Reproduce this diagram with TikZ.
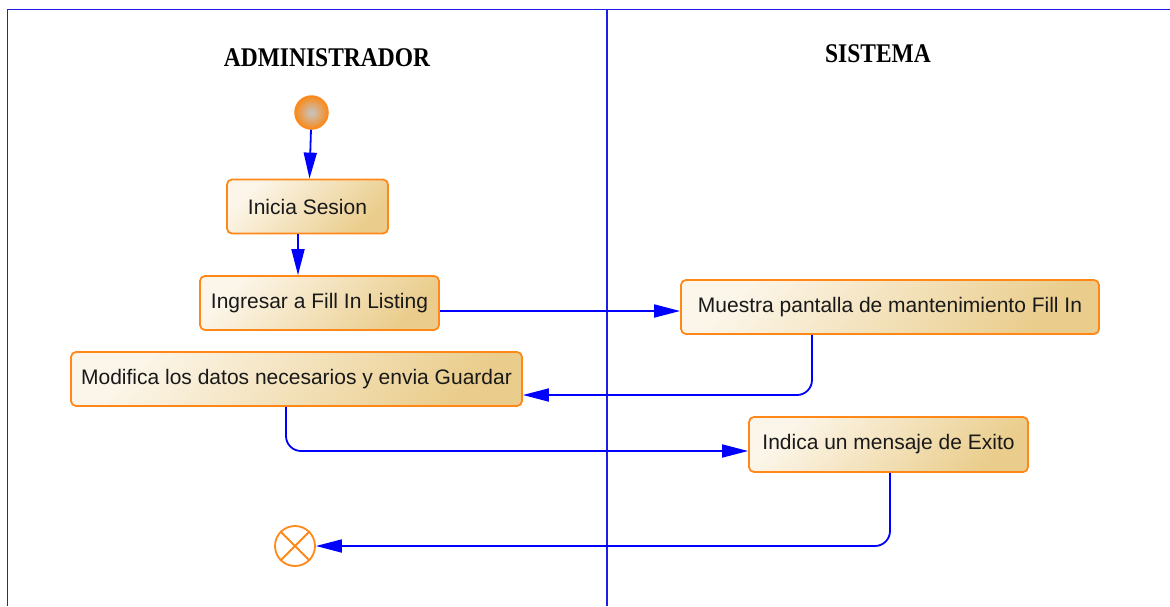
\documentclass[tikz,border=0pt]{standalone}
\usepackage{fontspec}
\usepackage{graphicx}
\newfontfamily\sansf{Liberation Sans}
\newfontfamily\seriff{Liberation Serif}
\usetikzlibrary{arrows.meta,calc}
\definecolor{laneblue}{RGB}{30,30,230}
\definecolor{flowblue}{RGB}{0,0,255}
\definecolor{boxborder}{RGB}{255,136,24}
\definecolor{boxlight}{RGB}{252,246,234}
\definecolor{boxdark}{RGB}{234,205,140}
\definecolor{initorange}{RGB}{248,138,28}
\begin{document}
\begin{tikzpicture}[x=1pt,y=-1pt,
  act/.style={draw=boxborder, line width=1.8pt, rounded corners=5pt,
    top color=boxlight, bottom color=boxdark, shading angle=45,
    inner sep=0pt, minimum height=54pt,
    font=\sansf\fontsize{21}{25}\selectfont, text=black!90},
  flow/.style={draw=flowblue, line width=1.8pt, rounded corners=15pt,
    -{Triangle[length=26pt,width=13pt]}},
  lane/.style={draw=laneblue, line width=1.8pt},
  lanetitle/.style={font=\seriff\bfseries\fontsize{27}{30}\selectfont, inner sep=0pt}]
\useasboundingbox (0,0) rectangle (1170,606);
% swimlane frame
\draw[lane] (7.5,606) -- (7.5,9.5) -- (1170,9.5);
\draw[lane] (607,9.5) -- (607,606);
% lane titles
\node[lanetitle] (admin) at (327,57.5) {\scalebox{0.87}[1]{ADMINISTRADOR}};
\node[lanetitle] (sis) at (878,54) {\scalebox{0.87}[1]{SISTEMA}};
% initial and final nodes
\node[circle, draw=boxborder, line width=1.5pt, inner color=gray!45, outer color=initorange,
      minimum size=33pt, inner sep=0pt] (init) at (311.5,112.5) {};
\node[circle, draw=boxborder, line width=1.8pt, fill=white, minimum size=40pt, inner sep=0pt]
      (final) at (295,546) {};
\draw[boxborder, line width=1.8pt] (final.north west) -- (final.south east)
      (final.north east) -- (final.south west);
% activities
\node[act, minimum width=161pt] (inicia) at (307.5,206.5) {Inicia Sesion};
\node[act, minimum width=239pt] (ingresar) at (319.5,303) {Ingresar a Fill In Listing};
\node[act, minimum width=418pt] (muestra) at (890,307) {Muestra pantalla de mantenimiento Fill In};
\node[act, minimum width=451pt] (modifica) at (296.5,379) {Modifica los datos necesarios y envia Guardar};
\node[act, minimum width=279pt, minimum height=55pt] (indica) at (888.5,444.5) {Indica un mensaje de Exito};
% flows
\draw[flow] (init) -- ([xshift=2pt]inicia.north);
\draw[flow] ([xshift=-9.5pt]inicia.south) -- ([xshift=-9.5pt]inicia.south |- ingresar.north);
\draw[flow] ([yshift=-8pt]ingresar.east) -- ([yshift=-8pt]ingresar.east -| muestra.west);
\draw[flow] ([xshift=-78pt]muestra.south) |- ([yshift=-16pt]modifica.east);
\draw[flow] ([xshift=-10.5pt]modifica.south) |- ([yshift=-6.5pt]indica.west);
\draw[flow] ([xshift=1.5pt]indica.south) |- (final.east);
\end{tikzpicture}
\end{document}
